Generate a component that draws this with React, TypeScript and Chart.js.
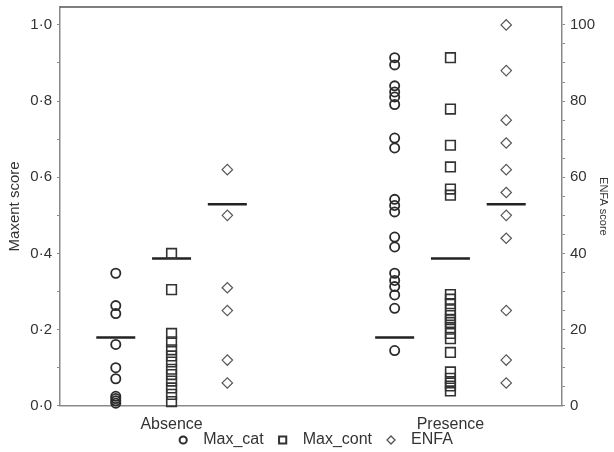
import { useEffect, useRef } from 'react';
import { Chart, registerables } from 'chart.js';

Chart.register(...registerables);

const categories = ['Absence', 'Presence'];
const seriesNames = ['Max_cat', 'Max_cont', 'ENFA'];

// Maxent (left axis, 0-1)
const absenceMaxCat = [0.348, 0.263, 0.242, 0.161, 0.1, 0.071, 0.025, 0.019, 0.013, 0.007];
const presenceMaxCat = [0.914, 0.895, 0.84, 0.824, 0.811, 0.791, 0.703, 0.677, 0.542, 0.526, 0.509, 0.443, 0.417, 0.348, 0.329, 0.313, 0.291, 0.256, 0.145];
const absenceMaxCont = [0.4, 0.305, 0.19, 0.168, 0.147, 0.131, 0.115, 0.096, 0.082, 0.065, 0.047, 0.03, 0.011];
const presenceMaxCont = [0.914, 0.779, 0.684, 0.627, 0.569, 0.553, 0.292, 0.28, 0.268, 0.252, 0.237, 0.226, 0.219, 0.205, 0.19, 0.176, 0.14, 0.089, 0.072, 0.06, 0.052, 0.039];
// ENFA (right axis, 0-100)
const absenceEnfa = [62, 50, 31, 25, 12, 6];
const presenceEnfa = [100, 88, 75, 69, 62, 56, 50, 44, 25, 12, 6];
// group means [Absence, Presence]
const meanMaxCat = [0.179, 0.179];
const meanMaxCont = [0.387, 0.387];
const meanEnfa = [52.9, 52.9];

const leftTicks = [0, 0.1, 0.2, 0.3, 0.4, 0.5, 0.6, 0.7, 0.8, 0.9, 1.0];
const rightTicks = [0, 5, 10, 15, 20, 25, 30, 35, 40, 45, 50, 55, 60, 65, 70, 75, 80, 85, 90, 95, 100];

const DODGE = 0.2;
const Y_MAX = 1.047;
const FONT = "'Liberation Sans', Arial, sans-serif";
const TXT = '#333';
const AXIS = '#8a8a8a';
const MARK_COLORS = ['#2b2b2b', '#333', '#555'];
const MARK_WIDTHS = [1.8, 1.6, 1.2];

const pts = (groups: number[][], off: number) =>
  groups.flatMap((vals, ci) => vals.map((v) => ({ x: ci + off, y: v })));
const means = (vals: number[], off: number) => vals.map((v, ci) => ({ x: ci + off, y: v }));

const framePlugin = {
  id: 'frameTop',
  afterDatasetsDraw(chart: any) {
    const { ctx, chartArea } = chart;
    ctx.save();
    ctx.strokeStyle = '#555';
    ctx.lineWidth = 1.5;
    ctx.beginPath();
    ctx.moveTo(chartArea.left, chartArea.top);
    ctx.lineTo(chartArea.right, chartArea.top);
    ctx.stroke();
    ctx.restore();
  },
};

// bottom legend row drawn under the axis labels
const legendPlugin = {
  id: 'bottomLegend',
  afterDraw(chart: any) {
    const { ctx } = chart;
    const y = 440;
    const centerX = 316;
    const markR = 4;
    const markToText = 20;
    const textToMark = 19;
    ctx.save();
    ctx.font = `16px ${FONT}`;
    ctx.textBaseline = 'middle';
    ctx.textAlign = 'left';
    const widths = seriesNames.map((s) => ctx.measureText(s).width);
    const total =
      markR + widths.reduce((a, w) => a + markToText + w, 0) + textToMark * (seriesNames.length - 1);
    let cx = centerX - total / 2 + markR;
    seriesNames.forEach((name, i) => {
      ctx.strokeStyle = MARK_COLORS[i];
      ctx.lineWidth = i === 2 ? 1.3 : 2;
      ctx.beginPath();
      if (i === 0) {
        ctx.arc(cx, y, 3.6, 0, Math.PI * 2);
      } else if (i === 1) {
        ctx.rect(cx - 3.6, y - 3.6, 7.2, 7.2);
      } else {
        ctx.moveTo(cx, y - 4);
        ctx.lineTo(cx + 4, y);
        ctx.lineTo(cx, y + 4);
        ctx.lineTo(cx - 4, y);
        ctx.closePath();
      }
      ctx.stroke();
      ctx.fillStyle = TXT;
      ctx.fillText(name, cx + markToText, y);
      cx += markToText + widths[i] + textToMark;
    });
    ctx.restore();
  },
};

export default function App() {
  const ref = useRef<HTMLCanvasElement>(null);
  useEffect(() => {
    const canvas = ref.current!;
    const meanStyle = {
      pointStyle: 'line',
      pointRadius: 19.5,
      pointHoverRadius: 19.5,
      borderColor: '#222',
      backgroundColor: '#222',
      borderWidth: 2.5,
      showLine: false,
      clip: false,
    };
    const chart = new Chart(canvas, {
      type: 'scatter',
      data: {
        datasets: [
          {
            label: seriesNames[0],
            data: pts([absenceMaxCat, presenceMaxCat], -DODGE),
            pointStyle: 'circle',
            pointRadius: 4.6,
            borderWidth: MARK_WIDTHS[0],
            borderColor: MARK_COLORS[0],
            backgroundColor: 'rgba(0,0,0,0)',
            yAxisID: 'y',
            clip: false,
          },
          {
            label: seriesNames[1],
            data: pts([absenceMaxCont, presenceMaxCont], 0),
            pointStyle: 'rect',
            pointRadius: 6.8,
            borderWidth: MARK_WIDTHS[1],
            borderColor: MARK_COLORS[1],
            backgroundColor: 'rgba(0,0,0,0)',
            yAxisID: 'y',
            clip: false,
          },
          {
            label: seriesNames[2],
            data: pts([absenceEnfa, presenceEnfa], DODGE),
            pointStyle: 'rectRot',
            pointRadius: 5.2,
            borderWidth: MARK_WIDTHS[2],
            borderColor: MARK_COLORS[2],
            backgroundColor: 'rgba(0,0,0,0)',
            yAxisID: 'y2',
            clip: false,
          },
          { label: 'mean_cat', data: means(meanMaxCat, -DODGE), yAxisID: 'y', ...meanStyle } as any,
          { label: 'mean_cont', data: means(meanMaxCont, 0), yAxisID: 'y', ...meanStyle } as any,
          { label: 'mean_enfa', data: means(meanEnfa, DODGE), yAxisID: 'y2', ...meanStyle } as any,
        ],
      },
      options: {
        responsive: false,
        animation: false,
        devicePixelRatio: 1,
        layout: { autoPadding: false, padding: { top: 7, left: 0, right: 0, bottom: 9 } },
        plugins: {
          tooltip: { enabled: false },
          legend: { display: false },
        },
        scales: {
          x: {
            type: 'linear',
            min: -0.4,
            max: 1.4,
            grid: { display: false, drawTicks: false },
            border: { display: true, color: AXIS, width: 1.5 },
            afterBuildTicks: (s: any) => {
              s.ticks = categories.map((_, i) => ({ value: i }));
            },
            afterFit: (s: any) => {
              s.paddingLeft = 0;
              s.paddingRight = 0;
            },
            ticks: {
              autoSkip: false,
              maxRotation: 0,
              padding: 9,
              color: TXT,
              font: { family: FONT, size: 16 },
              callback: (v: any) => categories[Math.round(Number(v))] ?? '',
            },
          },
          y: {
            type: 'linear',
            position: 'left',
            min: 0,
            max: Y_MAX,
            grid: { display: true, drawOnChartArea: false, drawTicks: true, tickLength: 3, color: AXIS },
            border: { display: true, color: AXIS, width: 1.5 },
            afterBuildTicks: (s: any) => {
              s.ticks = leftTicks.map((v) => ({ value: v }));
            },
            afterFit: (s: any) => {
              s.width = 60;
              s.paddingTop = 0;
              s.paddingBottom = 0;
            },
            title: {
              display: true,
              text: 'Maxent score',
              color: TXT,
              font: { family: FONT, size: 15 },
              padding: { top: 6, bottom: 0 },
            },
            ticks: {
              autoSkip: false,
              padding: 5,
              color: TXT,
              font: { family: FONT, size: 15 },
              callback: (v: any) => {
                const n = Math.round(Number(v) * 10);
                return n % 2 === 0 ? (n / 10).toFixed(1).replace('.', '\u00b7') : '';
              },
            },
          },
          y2: {
            type: 'linear',
            position: 'right',
            min: 0,
            max: Y_MAX * 100,
            grid: { display: true, drawOnChartArea: false, drawTicks: true, tickLength: 3, color: AXIS },
            border: { display: true, color: AXIS, width: 1.5 },
            afterBuildTicks: (s: any) => {
              s.ticks = rightTicks.map((v) => ({ value: v }));
            },
            afterFit: (s: any) => {
              s.width = 52;
              s.paddingTop = 0;
              s.paddingBottom = 0;
            },
            title: {
              display: true,
              text: 'ENFA score',
              color: TXT,
              font: { family: FONT, size: 11 },
              padding: { top: 4, bottom: 2 },
            },
            ticks: {
              autoSkip: false,
              padding: 5,
              color: TXT,
              font: { family: FONT, size: 15 },
              callback: (v: any) => (Math.round(Number(v)) % 20 === 0 ? String(Math.round(Number(v))) : ''),
            },
          },
        },
      },
      plugins: [framePlugin, legendPlugin],
    } as any);
    return () => chart.destroy();
  }, []);
  return (
    <div style={{ position: 'fixed', left: 0, top: 0, width: 614, height: 452, background: '#fff' }}>
      <canvas ref={ref} width={614} height={452} style={{ width: 614, height: 452, display: 'block' }} />
    </div>
  );
}
